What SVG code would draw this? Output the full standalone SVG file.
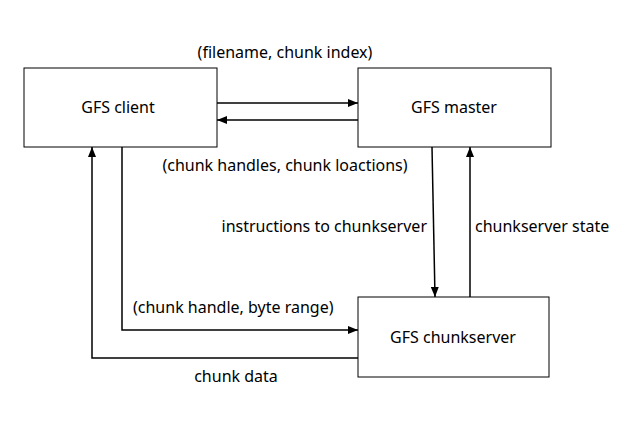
<svg xmlns="http://www.w3.org/2000/svg" width="627" height="432" viewBox="0 0 627 432">
<style>
.box{fill:#fff;stroke:#000;stroke-width:1}
.ln{fill:none;stroke:#000;stroke-width:1.5}
text{font-family:"Noto Sans","Open Sans",sans-serif;font-size:16px;fill:#000}
</style>
<defs>
<marker id="ah" viewBox="0 0 10 8" refX="10" refY="4" markerWidth="10" markerHeight="8" markerUnits="userSpaceOnUse" orient="auto">
<path d="M0,0 L10,4 L0,8 Z" fill="#000"/>
</marker>
</defs>
<rect width="627" height="432" fill="#fff"/>
<g id="connectors">
<line class="ln" x1="217" y1="103" x2="358" y2="103" marker-end="url(#ah)"/>
<line class="ln" x1="358" y1="120" x2="217" y2="120" marker-end="url(#ah)"/>
<line class="ln" x1="432" y1="147" x2="435" y2="297" marker-end="url(#ah)"/>
<line class="ln" x1="470" y1="297" x2="470" y2="147" marker-end="url(#ah)"/>
<polyline class="ln" points="122,147 122,330 358,330" marker-end="url(#ah)"/>
<polyline class="ln" points="358,358 92,358 92,147" marker-end="url(#ah)"/>
<text x="285" y="58" text-anchor="middle">(filename, chunk index)</text>
<text x="285" y="171" text-anchor="middle">(chunk handles, chunk loactions)</text>
<text x="427" y="232" text-anchor="end">instructions to chunkserver</text>
<text x="475" y="232">chunkserver state</text>
<text x="133" y="313">(chunk handle, byte range)</text>
<text x="236" y="382" text-anchor="middle">chunk data</text>
</g>
<g id="client">
<rect class="box" x="24" y="68" width="193" height="79"/>
<text x="118" y="113" text-anchor="middle">GFS client</text>
</g>
<g id="master">
<rect class="box" x="358" y="68" width="193" height="79"/>
<text x="454" y="113" text-anchor="middle">GFS master</text>
</g>
<g id="chunkserver">
<rect class="box" x="358" y="297" width="191" height="80"/>
<text x="453" y="343" text-anchor="middle">GFS chunkserver</text>
</g>
</svg>
